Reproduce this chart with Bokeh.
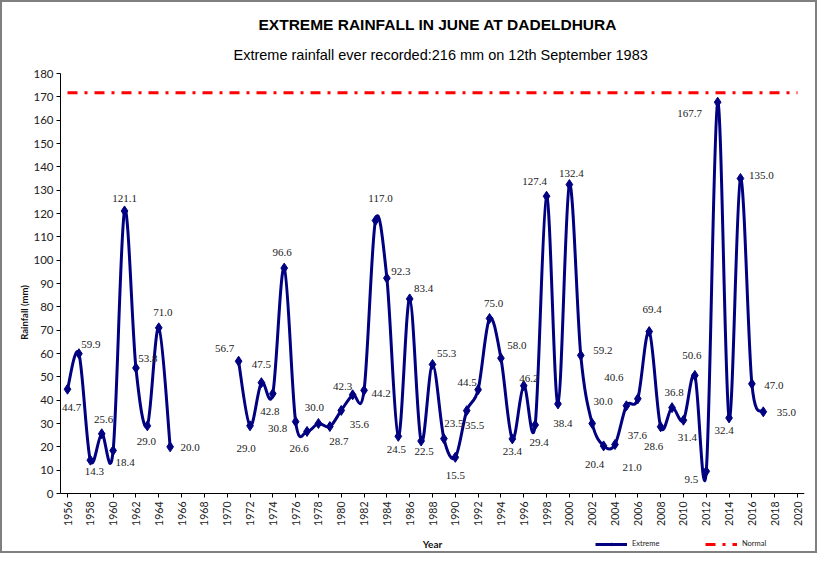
from bokeh.plotting import figure
from bokeh.models import (Range1d, FixedTicker, ColumnDataSource, LabelSet, Legend,
                          LegendItem, Title)
from bokeh.embed import file_html
from bokeh.resources import INLINE

# ---------------- data ----------------
years_a = [1956, 1957, 1958, 1959, 1960, 1961, 1962, 1963, 1964, 1965]
rain_a = [44.7, 59.9, 14.3, 25.6, 18.4, 121.1, 53.8, 29.0, 71.0, 20.0]

years_b = [1971, 1972, 1973, 1974, 1975, 1976, 1977, 1978, 1979, 1980,
           1981, 1982, 1983, 1984, 1985, 1986, 1987, 1988, 1989, 1990,
           1991, 1992, 1993, 1994, 1995, 1996, 1997, 1998, 1999, 2000,
           2001, 2002, 2003, 2004, 2005, 2006, 2007, 2008, 2009, 2010,
           2011, 2012, 2013, 2014, 2015, 2016, 2017]
rain_b = [56.7, 29.0, 47.5, 42.8, 96.6, 30.8, 26.6, 30.0, 28.7, 35.6,
          42.3, 44.2, 117.0, 92.3, 24.5, 83.4, 22.5, 55.3, 23.5, 15.5,
          35.5, 44.5, 75.0, 58.0, 23.4, 46.2, 29.4, 127.4, 38.4, 132.4,
          59.2, 30.0, 20.4, 21.0, 37.6, 40.6, 69.4, 28.6, 36.8, 31.4,
          50.6, 9.5, 167.7, 32.4, 135.0, 47.0, 35.0]

normal_rainfall = 171.8

x_ticks = list(range(1956, 2021, 2))
y_ticks = list(range(0, 181, 10))

# label offsets in screen pixels (dx right, dy down) -- styling only
label_dx_a = [4, 12, 4, 2, 12, 0, 12, -1, 4, 20]
label_dy_a = [18, -9, 11, -14, 12, -12, -9, 16, -15, 1]
label_dx_b = [-14, -4, 0, -3, -2, -18, -8, -4, 9, 18,
              -10, 17, 5, 14, -2, 14, 3, 14, 10, 0,
              8, -11, 4, 16, 0, 5, 4, -12, 5, 2,
              22, 11, -9, 17, 11, -24, 3, -7, 2, 4,
              -3, -15, -28, -5, 21, 22, 23]
label_dy_b = [-13, 23, -18, 18, -16, 7, 17, -16, 15, 14,
              -8, 3, -22, -7, 13, -10, 10, -11, -15, 18,
              15, -7, -15, -13, 13, -7, 18, -15, 20, -11,
              -5, -22, 19, 23, 30, -21, -22, 20, -15, 17,
              -20, 8, 11, 13, -3, 2, 1]

NAVY = "#000080"

# layout helpers (pixels): 420 px for 0..180, 58 px below zero for labels & legend,
# 730 px for 1956..2020 plus a small side pad so edge tick labels are not clipped
PX_AXIS_H = 420.0
PX_BELOW = 58.0
PX_AXIS_W = 730.0
PX_PAD = 7.0
y_span = y_ticks[-1] - y_ticks[0]
x_span = x_ticks[-1] - x_ticks[0]
y_start = y_ticks[0] - PX_BELOW * y_span / PX_AXIS_H
x_start = x_ticks[0] - PX_PAD * x_span / PX_AXIS_W
x_end = x_ticks[-1] + PX_PAD * x_span / PX_AXIS_W


def bezier_parts(xs, ys):
    n = len(xs)
    out = dict(x0=[], y0=[], x1=[], y1=[], cx0=[], cy0=[], cx1=[], cy1=[])
    for i in range(n - 1):
        a = i - 1 if i > 0 else i
        d = i + 2 if i + 2 < n else i + 1
        out["x0"].append(xs[i]); out["y0"].append(ys[i])
        out["x1"].append(xs[i + 1]); out["y1"].append(ys[i + 1])
        out["cx0"].append(xs[i] + (xs[i + 1] - xs[a]) / 6.0)
        out["cy0"].append(ys[i] + (ys[i + 1] - ys[a]) / 6.0)
        out["cx1"].append(xs[i + 1] - (xs[d] - xs[i]) / 6.0)
        out["cy1"].append(ys[i + 1] - (ys[d] - ys[i]) / 6.0)
    return out


seg_a = bezier_parts(years_a, rain_a)
seg_b = bezier_parts(years_b, rain_b)
bez = {k: seg_a[k] + seg_b[k] for k in seg_a}

all_years = years_a + years_b
all_rain = rain_a + rain_b
all_dx = label_dx_a + label_dx_b
all_dy = label_dy_a + label_dy_b

p = figure(width=817, height=553, output_backend="svg", toolbar_location=None,
           x_range=Range1d(x_start, x_end),
           y_range=Range1d(y_start, y_ticks[-1]),
           min_border_left=58, min_border_right=15, min_border_top=71,
           min_border_bottom=4)
p.styles = {"border": "2px solid #7f7f7f"}

p.add_layout(Title(text="Extreme rainfall ever recorded:216 mm on 12th September 1983",
                   align="left", text_font="Liberation Sans", text_font_size="14.5px",
                   text_font_style="normal", text_color="#000000", standoff=22,
                   offset=173), "above")
p.add_layout(Title(text="EXTREME  RAINFALL  IN JUNE AT DADELDHURA",
                   align="left", text_font="Liberation Sans", text_font_size="15.5px",
                   text_font_style="bold", text_color="#000000", standoff=1,
                   offset=198), "above")

p.xgrid.visible = False
p.ygrid.visible = False
p.outline_line_color = None
p.background_fill_color = "white"
p.border_fill_color = "white"

p.xaxis.ticker = FixedTicker(ticks=x_ticks)
p.yaxis.ticker = FixedTicker(ticks=y_ticks)
for ax in (p.xaxis, p.yaxis):
    ax.axis_line_color = "black"
    ax.major_tick_line_color = "black"
    ax.major_tick_in = 0
    ax.major_tick_out = 4
    ax.minor_tick_line_color = None
    ax.major_label_text_font = "Lato"
    ax.major_label_text_color = "#222222"
    ax.axis_label_text_font = "Lato"
    ax.axis_label_text_font_style = "bold"
    ax.axis_label_text_color = "#111111"

p.xaxis.fixed_location = y_ticks[0]
p.yaxis.bounds = (y_ticks[0], y_ticks[-1])
p.xaxis.major_label_orientation = 1.5707963
p.xaxis.major_label_text_font_size = "10.5px"
p.xaxis.major_label_standoff = 4
p.yaxis.major_label_text_font_size = "11.5px"
p.yaxis.major_label_standoff = 3
p.xaxis.axis_label = "Year"
p.xaxis.axis_label_text_font_size = "10px"
p.xaxis.axis_label_standoff = 9
p.yaxis.axis_label = "Rainfall (mm)"
p.yaxis.axis_label_text_font_size = "9.5px"
p.yaxis.axis_label_standoff = 0

# normal line
norm_r = p.line(x=[x_ticks[0], x_ticks[-1]], y=[normal_rainfall, normal_rainfall],
                line_color="#ff0000", line_width=3, line_dash="10 7 3 7")

# smoothed extreme line
bez_r = p.bezier(source=ColumnDataSource(bez), x0="x0", y0="y0", x1="x1", y1="y1",
                 cx0="cx0", cy0="cy0", cx1="cx1", cy1="cy1",
                 line_color=NAVY, line_width=3)
pts = ColumnDataSource(dict(x=all_years, y=all_rain,
                            txt=["%.1f" % v for v in all_rain],
                            dx=all_dx, dy=[-d for d in all_dy]))
sc_r = p.scatter("x", "y", source=pts, marker="diamond", size=10,
                 fill_color=NAVY, line_color=NAVY)

labels = LabelSet(x="x", y="y", text="txt", source=pts, x_offset="dx", y_offset="dy",
                  text_align="center", text_baseline="middle",
                  text_font="Lato", text_font_size="11px", text_color="#222222")
p.add_layout(labels)

legend = Legend(items=[LegendItem(label="Extreme", renderers=[bez_r, sc_r]),
                       LegendItem(label="Normal", renderers=[norm_r])],
                location=(535, 3), orientation="horizontal",
                label_text_font="Lato", label_text_font_size="7.5px",
                label_text_color="#222222", label_width=55,
                glyph_width=32, glyph_height=8, spacing=18, label_standoff=5,
                padding=0, margin=0, border_line_alpha=0,
                background_fill_alpha=0)
p.add_layout(legend)

open("out.html", "w").write(file_html(p, INLINE))
